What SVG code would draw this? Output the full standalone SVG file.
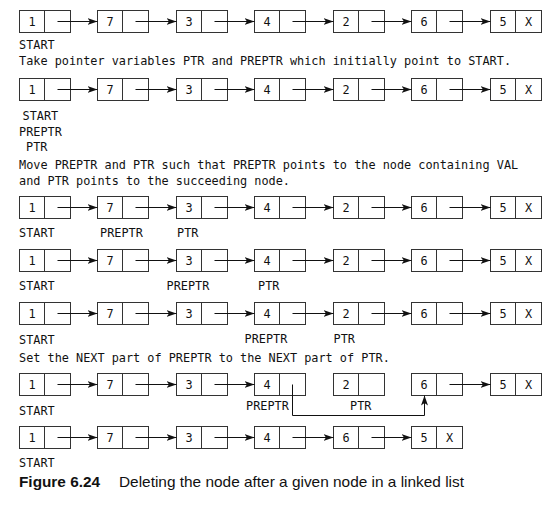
<svg xmlns="http://www.w3.org/2000/svg" width="553" height="510" viewBox="0 0 553 510">
<defs>
<style>
.node rect{fill:#fff;stroke:#333;stroke-width:1}
.node line{stroke:#333;stroke-width:1}
.v{font-family:"DejaVu Sans Mono","Liberation Mono",monospace;font-size:11.85px;fill:#111;text-anchor:middle}
.t{font-family:"DejaVu Sans Mono","Liberation Mono",monospace;font-size:11.85px;fill:#111}
.c path{fill:none;stroke:#111;stroke-width:1;marker-end:url(#ah)}
.cap{font-family:"Liberation Sans Narrow","Liberation Sans",Arial,sans-serif;font-size:15px;fill:#111}
</style>
<marker id="ah" markerUnits="userSpaceOnUse" markerWidth="11" markerHeight="8" refX="10" refY="3.5" orient="auto">
<path d="M0,0 L10,3.5 L0,7 L2.5,3.5 Z" fill="#111"/>
</marker>
</defs>
<rect width="553" height="510" fill="#fff"/>

<!-- Row 1 -->
<g id="r1n1" class="node"><rect x="19.5" y="10.5" width="51" height="22"/><line x1="44.5" y1="10.5" x2="44.5" y2="32.5"/><text class="v" x="32" y="26">1</text></g>
<g id="r1n2" class="node"><rect x="97.5" y="10.5" width="51" height="22"/><line x1="122.5" y1="10.5" x2="122.5" y2="32.5"/><text class="v" x="110" y="26">7</text></g>
<g id="r1n3" class="node"><rect x="176.5" y="10.5" width="51" height="22"/><line x1="201.5" y1="10.5" x2="201.5" y2="32.5"/><text class="v" x="189" y="26">3</text></g>
<g id="r1n4" class="node"><rect x="254.5" y="10.5" width="51" height="22"/><line x1="279.5" y1="10.5" x2="279.5" y2="32.5"/><text class="v" x="267" y="26">4</text></g>
<g id="r1n5" class="node"><rect x="333.5" y="10.5" width="51" height="22"/><line x1="358.5" y1="10.5" x2="358.5" y2="32.5"/><text class="v" x="346" y="26">2</text></g>
<g id="r1n6" class="node"><rect x="411.5" y="10.5" width="51" height="22"/><line x1="436.5" y1="10.5" x2="436.5" y2="32.5"/><text class="v" x="424" y="26">6</text></g>
<g id="r1n7" class="node"><rect x="490.5" y="10.5" width="51" height="22"/><line x1="515.5" y1="10.5" x2="515.5" y2="32.5"/><text class="v" x="503" y="26">5</text><text class="v" x="528.5" y="26">X</text></g>

<!-- Row 2 -->
<g id="r2n1" class="node"><rect x="19.5" y="78.5" width="51" height="22"/><line x1="44.5" y1="78.5" x2="44.5" y2="100.5"/><text class="v" x="32" y="94">1</text></g>
<g id="r2n2" class="node"><rect x="97.5" y="78.5" width="51" height="22"/><line x1="122.5" y1="78.5" x2="122.5" y2="100.5"/><text class="v" x="110" y="94">7</text></g>
<g id="r2n3" class="node"><rect x="176.5" y="78.5" width="51" height="22"/><line x1="201.5" y1="78.5" x2="201.5" y2="100.5"/><text class="v" x="189" y="94">3</text></g>
<g id="r2n4" class="node"><rect x="254.5" y="78.5" width="51" height="22"/><line x1="279.5" y1="78.5" x2="279.5" y2="100.5"/><text class="v" x="267" y="94">4</text></g>
<g id="r2n5" class="node"><rect x="333.5" y="78.5" width="51" height="22"/><line x1="358.5" y1="78.5" x2="358.5" y2="100.5"/><text class="v" x="346" y="94">2</text></g>
<g id="r2n6" class="node"><rect x="411.5" y="78.5" width="51" height="22"/><line x1="436.5" y1="78.5" x2="436.5" y2="100.5"/><text class="v" x="424" y="94">6</text></g>
<g id="r2n7" class="node"><rect x="490.5" y="78.5" width="51" height="22"/><line x1="515.5" y1="78.5" x2="515.5" y2="100.5"/><text class="v" x="503" y="94">5</text><text class="v" x="528.5" y="94">X</text></g>

<!-- Row 3 -->
<g id="r3n1" class="node"><rect x="19.5" y="196.5" width="51" height="22"/><line x1="44.5" y1="196.5" x2="44.5" y2="218.5"/><text class="v" x="32" y="212">1</text></g>
<g id="r3n2" class="node"><rect x="97.5" y="196.5" width="51" height="22"/><line x1="122.5" y1="196.5" x2="122.5" y2="218.5"/><text class="v" x="110" y="212">7</text></g>
<g id="r3n3" class="node"><rect x="176.5" y="196.5" width="51" height="22"/><line x1="201.5" y1="196.5" x2="201.5" y2="218.5"/><text class="v" x="189" y="212">3</text></g>
<g id="r3n4" class="node"><rect x="254.5" y="196.5" width="51" height="22"/><line x1="279.5" y1="196.5" x2="279.5" y2="218.5"/><text class="v" x="267" y="212">4</text></g>
<g id="r3n5" class="node"><rect x="333.5" y="196.5" width="51" height="22"/><line x1="358.5" y1="196.5" x2="358.5" y2="218.5"/><text class="v" x="346" y="212">2</text></g>
<g id="r3n6" class="node"><rect x="411.5" y="196.5" width="51" height="22"/><line x1="436.5" y1="196.5" x2="436.5" y2="218.5"/><text class="v" x="424" y="212">6</text></g>
<g id="r3n7" class="node"><rect x="490.5" y="196.5" width="51" height="22"/><line x1="515.5" y1="196.5" x2="515.5" y2="218.5"/><text class="v" x="503" y="212">5</text><text class="v" x="528.5" y="212">X</text></g>

<!-- Row 4 -->
<g id="r4n1" class="node"><rect x="19.5" y="249.5" width="51" height="22"/><line x1="44.5" y1="249.5" x2="44.5" y2="271.5"/><text class="v" x="32" y="265">1</text></g>
<g id="r4n2" class="node"><rect x="97.5" y="249.5" width="51" height="22"/><line x1="122.5" y1="249.5" x2="122.5" y2="271.5"/><text class="v" x="110" y="265">7</text></g>
<g id="r4n3" class="node"><rect x="176.5" y="249.5" width="51" height="22"/><line x1="201.5" y1="249.5" x2="201.5" y2="271.5"/><text class="v" x="189" y="265">3</text></g>
<g id="r4n4" class="node"><rect x="254.5" y="249.5" width="51" height="22"/><line x1="279.5" y1="249.5" x2="279.5" y2="271.5"/><text class="v" x="267" y="265">4</text></g>
<g id="r4n5" class="node"><rect x="333.5" y="249.5" width="51" height="22"/><line x1="358.5" y1="249.5" x2="358.5" y2="271.5"/><text class="v" x="346" y="265">2</text></g>
<g id="r4n6" class="node"><rect x="411.5" y="249.5" width="51" height="22"/><line x1="436.5" y1="249.5" x2="436.5" y2="271.5"/><text class="v" x="424" y="265">6</text></g>
<g id="r4n7" class="node"><rect x="490.5" y="249.5" width="51" height="22"/><line x1="515.5" y1="249.5" x2="515.5" y2="271.5"/><text class="v" x="503" y="265">5</text><text class="v" x="528.5" y="265">X</text></g>

<!-- Row 5 -->
<g id="r5n1" class="node"><rect x="19.5" y="302.5" width="51" height="22"/><line x1="44.5" y1="302.5" x2="44.5" y2="324.5"/><text class="v" x="32" y="318">1</text></g>
<g id="r5n2" class="node"><rect x="97.5" y="302.5" width="51" height="22"/><line x1="122.5" y1="302.5" x2="122.5" y2="324.5"/><text class="v" x="110" y="318">7</text></g>
<g id="r5n3" class="node"><rect x="176.5" y="302.5" width="51" height="22"/><line x1="201.5" y1="302.5" x2="201.5" y2="324.5"/><text class="v" x="189" y="318">3</text></g>
<g id="r5n4" class="node"><rect x="254.5" y="302.5" width="51" height="22"/><line x1="279.5" y1="302.5" x2="279.5" y2="324.5"/><text class="v" x="267" y="318">4</text></g>
<g id="r5n5" class="node"><rect x="333.5" y="302.5" width="51" height="22"/><line x1="358.5" y1="302.5" x2="358.5" y2="324.5"/><text class="v" x="346" y="318">2</text></g>
<g id="r5n6" class="node"><rect x="411.5" y="302.5" width="51" height="22"/><line x1="436.5" y1="302.5" x2="436.5" y2="324.5"/><text class="v" x="424" y="318">6</text></g>
<g id="r5n7" class="node"><rect x="490.5" y="302.5" width="51" height="22"/><line x1="515.5" y1="302.5" x2="515.5" y2="324.5"/><text class="v" x="503" y="318">5</text><text class="v" x="528.5" y="318">X</text></g>

<!-- Row 6 -->
<g id="r6n1" class="node"><rect x="19.5" y="373.5" width="51" height="22"/><line x1="44.5" y1="373.5" x2="44.5" y2="395.5"/><text class="v" x="32" y="389">1</text></g>
<g id="r6n2" class="node"><rect x="97.5" y="373.5" width="51" height="22"/><line x1="122.5" y1="373.5" x2="122.5" y2="395.5"/><text class="v" x="110" y="389">7</text></g>
<g id="r6n3" class="node"><rect x="176.5" y="373.5" width="51" height="22"/><line x1="201.5" y1="373.5" x2="201.5" y2="395.5"/><text class="v" x="189" y="389">3</text></g>
<g id="r6n4" class="node"><rect x="254.5" y="373.5" width="51" height="22"/><line x1="279.5" y1="373.5" x2="279.5" y2="395.5"/><text class="v" x="267" y="389">4</text></g>
<g id="r6n5" class="node"><rect x="333.5" y="373.5" width="51" height="22"/><line x1="358.5" y1="373.5" x2="358.5" y2="395.5"/><text class="v" x="346" y="389">2</text></g>
<g id="r6n6" class="node"><rect x="411.5" y="373.5" width="51" height="22"/><line x1="436.5" y1="373.5" x2="436.5" y2="395.5"/><text class="v" x="424" y="389">6</text></g>
<g id="r6n7" class="node"><rect x="490.5" y="373.5" width="51" height="22"/><line x1="515.5" y1="373.5" x2="515.5" y2="395.5"/><text class="v" x="503" y="389">5</text><text class="v" x="528.5" y="389">X</text></g>

<!-- Row 7 -->
<g id="r7n1" class="node"><rect x="19.5" y="426.5" width="51" height="22"/><line x1="44.5" y1="426.5" x2="44.5" y2="448.5"/><text class="v" x="32" y="442">1</text></g>
<g id="r7n2" class="node"><rect x="97.5" y="426.5" width="51" height="22"/><line x1="122.5" y1="426.5" x2="122.5" y2="448.5"/><text class="v" x="110" y="442">7</text></g>
<g id="r7n3" class="node"><rect x="176.5" y="426.5" width="51" height="22"/><line x1="201.5" y1="426.5" x2="201.5" y2="448.5"/><text class="v" x="189" y="442">3</text></g>
<g id="r7n4" class="node"><rect x="254.5" y="426.5" width="51" height="22"/><line x1="279.5" y1="426.5" x2="279.5" y2="448.5"/><text class="v" x="267" y="442">4</text></g>
<g id="r7n5" class="node"><rect x="333.5" y="426.5" width="51" height="22"/><line x1="358.5" y1="426.5" x2="358.5" y2="448.5"/><text class="v" x="346" y="442">6</text></g>
<g id="r7n6" class="node"><rect x="411.5" y="426.5" width="51" height="22"/><line x1="436.5" y1="426.5" x2="436.5" y2="448.5"/><text class="v" x="424" y="442">5</text><text class="v" x="449.5" y="442">X</text></g>

<!-- Connectors -->
<g id="connectors" class="c">
<path d="M57.5,21.5H97.5"/><path d="M135.5,21.5H176.5"/><path d="M214.5,21.5H254.5"/><path d="M292.5,21.5H333.5"/><path d="M371.5,21.5H411.5"/><path d="M449.5,21.5H490.5"/>
<path d="M57.5,89.5H97.5"/><path d="M135.5,89.5H176.5"/><path d="M214.5,89.5H254.5"/><path d="M292.5,89.5H333.5"/><path d="M371.5,89.5H411.5"/><path d="M449.5,89.5H490.5"/>
<path d="M57.5,207.5H97.5"/><path d="M135.5,207.5H176.5"/><path d="M214.5,207.5H254.5"/><path d="M292.5,207.5H333.5"/><path d="M371.5,207.5H411.5"/><path d="M449.5,207.5H490.5"/>
<path d="M57.5,260.5H97.5"/><path d="M135.5,260.5H176.5"/><path d="M214.5,260.5H254.5"/><path d="M292.5,260.5H333.5"/><path d="M371.5,260.5H411.5"/><path d="M449.5,260.5H490.5"/>
<path d="M57.5,313.5H97.5"/><path d="M135.5,313.5H176.5"/><path d="M214.5,313.5H254.5"/><path d="M292.5,313.5H333.5"/><path d="M371.5,313.5H411.5"/><path d="M449.5,313.5H490.5"/>
<path d="M57.5,384.5H97.5"/><path d="M135.5,384.5H176.5"/><path d="M214.5,384.5H254.5"/><path d="M449.5,384.5H490.5"/>
<path d="M292.5,384.5V415.5H424.5V395.5"/>
<path d="M57.5,437.5H97.5"/><path d="M135.5,437.5H176.5"/><path d="M214.5,437.5H254.5"/><path d="M292.5,437.5H333.5"/><path d="M371.5,437.5H411.5"/>
</g>

<!-- Labels -->
<g id="labels">
<text class="t" x="19" y="49">START</text>
<text class="t" x="19" y="65">Take pointer variables PTR and PREPTR which initially point to START.</text>
<text class="t" x="22.5" y="120">START</text>
<text class="t" x="19" y="135.5">PREPTR</text>
<text class="t" x="26" y="151">PTR</text>
<text class="t" x="19" y="169">Move PREPTR and PTR such that PREPTR points to the node containing VAL</text>
<text class="t" x="19" y="185">and PTR points to the succeeding node.</text>
<text class="t" x="19" y="237">START</text>
<text class="t" x="100" y="237">PREPTR</text>
<text class="t" x="177" y="237">PTR</text>
<text class="t" x="19" y="290">START</text>
<text class="t" x="166.5" y="290">PREPTR</text>
<text class="t" x="258" y="290">PTR</text>
<text class="t" x="19" y="344">START</text>
<text class="t" x="244.5" y="343">PREPTR</text>
<text class="t" x="333.5" y="343">PTR</text>
<text class="t" x="19" y="362">Set the NEXT part of PREPTR to the NEXT part of PTR.</text>
<text class="t" x="19" y="415">START</text>
<text class="t" x="246" y="410">PREPTR</text>
<text class="t" x="350" y="410">PTR</text>
<text class="t" x="19" y="467">START</text>
</g>

<!-- Caption -->
<g id="caption">
<text class="cap" x="19" y="487" font-weight="bold" textLength="81" lengthAdjust="spacingAndGlyphs">Figure 6.24</text>
<text class="cap" x="119" y="487" textLength="345" lengthAdjust="spacingAndGlyphs">Deleting the node after a given node in a linked list</text>
</g>
</svg>
